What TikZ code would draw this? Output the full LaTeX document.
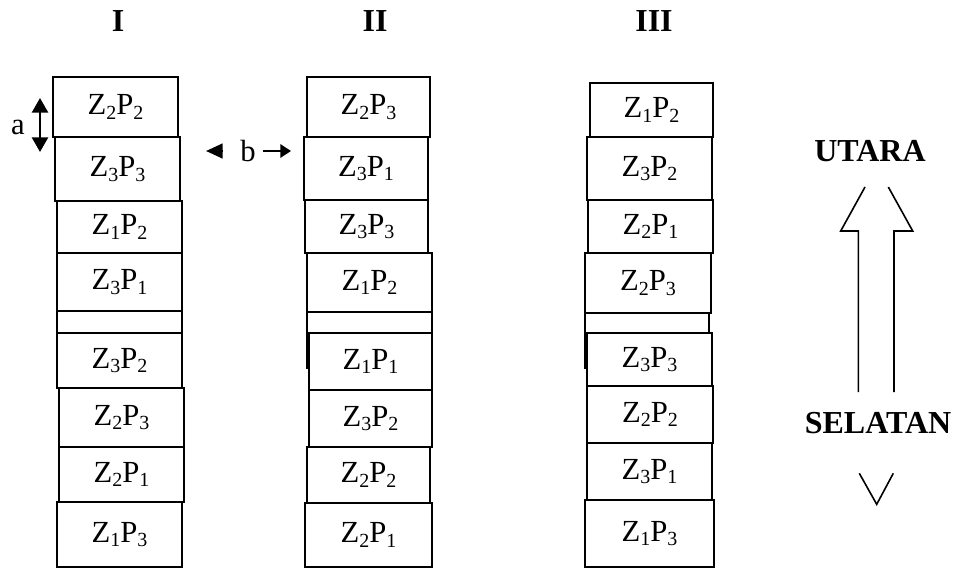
\documentclass[tikz,border=0pt]{standalone}
\usepackage{fontspec}
\setmainfont{Liberation Serif}
\usetikzlibrary{fit,arrows.meta}

% subscript digit set low, as in a word-processor layout
\newcommand\lowsub[1]{\raisebox{-0.3ex}{\fontsize{15}{15}\selectfont #1}}
\newcommand\zp[2]{Z\lowsub{#1}P\lowsub{#2}}
% plot cell: name, corner (x1,y1), corner (x2,y2), label centred inside
\newcommand\plotcell[6]{%
  \node[cell, fit={(#2,#3) (#4,#5)}] (#1) {};
  \node[celltext] (#1-t) at (#1.center) {#6};}

\tikzset{
  cell/.style={draw, line width=1.5pt, fill=white, inner sep=0pt},
  celltext/.style={font=\fontsize{23}{27}\selectfont, inner sep=0pt},
  hdr/.style={font=\bfseries\fontsize{24}{28}\selectfont, inner sep=0pt},
  lbl/.style={font=\fontsize{23}{27}\selectfont, inner sep=0pt},
  gap/.style={line width=1.9pt},
  compass/.style={line width=1.2pt}
}

\begin{document}
\begin{tikzpicture}[x=0.75pt,y=-0.75pt]
\useasboundingbox (0,0) rectangle (966,568);

% block headings
\node[hdr] (hI)   at (118,21) {I};
\node[hdr] (hII)  at (375,21) {II};
\node[hdr] (hIII) at (654,21) {III};

% block I
\plotcell{I1}{53}{77}{178}{137}{\zp22}
\plotcell{I2}{55}{137}{180}{201}{\zp33}
\plotcell{I3}{57}{201}{182}{253}{\zp12}
\plotcell{I4}{57}{253}{182}{311}{\zp31}
\plotcell{I5}{57}{311}{182}{368}{}
\plotcell{I6}{57}{333}{182}{388}{\zp32}
\plotcell{I7}{59}{388}{184}{447}{\zp23}
\plotcell{I8}{59}{447}{184}{502}{\zp21}
\plotcell{I9}{57}{502}{182}{567}{\zp13}

% block II
\plotcell{II1}{307}{77}{430}{137}{\zp23}
\plotcell{II2}{304}{137}{428}{200}{\zp31}
\plotcell{II3}{305}{200}{428}{253}{\zp33}
\plotcell{II4}{307}{253}{432}{312}{\zp12}
\plotcell{II5}{307}{312}{432}{368}{}
\plotcell{II6}{309}{333}{432}{390}{\zp11}
\plotcell{II7}{309}{390}{432}{447}{\zp32}
\plotcell{II8}{307}{447}{430}{503}{\zp22}
\plotcell{II9}{305}{503}{432}{567}{\zp21}

% block III
\plotcell{III1}{590}{83}{713}{137}{\zp12}
\plotcell{III2}{587}{137}{712}{200}{\zp32}
\plotcell{III3}{588}{200}{713}{253}{\zp21}
\plotcell{III4}{585}{253}{711}{313}{\zp23}
\plotcell{III5}{585}{313}{709}{368}{}
\plotcell{III6}{587}{333}{712}{386}{\zp33}
\plotcell{III7}{587}{386}{713}{443}{\zp22}
\plotcell{III8}{587}{443}{712}{500}{\zp31}
\plotcell{III9}{585}{500}{714}{567}{\zp13}

% plot length a
\node[lbl] (a) at (18,127) {a};
\coordinate (aTop) at (40,98);
\coordinate (aBot) at (40,152);
\draw[gap, {Triangle[length=11pt,width=12pt]}-{Triangle[length=11pt,width=12pt]}] (aTop) -- (aBot);

% spacing b between blocks
\node[lbl] (b) at (248,151) {b};
\coordinate (bLbase) at (223,151);
\coordinate (bLtip)  at (206,151);
\coordinate (bRbase) at (263,151);
\coordinate (bRtip)  at (291,151);
\draw[gap, -{Triangle[length=12.5pt,width=11pt]}] (bLbase) -- (bLtip);
\draw[line width=1.6pt, -{Triangle[length=8pt,width=10pt]}] (bRbase) -- (bRtip);

% north-south indicator
\node[hdr] (north) at (870,151) {UTARA};
\node[hdr] (south) at (878,423) {SELATAN};
\draw[compass] (865,187) -- (840.7,231) -- (858.3,231) -- (858.3,392);
\draw[compass] (888.3,187) -- (912.7,231) -- (894,231) -- (894,392);
\draw[compass] (859.3,473.3) -- (876.7,504.3) -- (893.3,473.3);
\end{tikzpicture}
\end{document}
